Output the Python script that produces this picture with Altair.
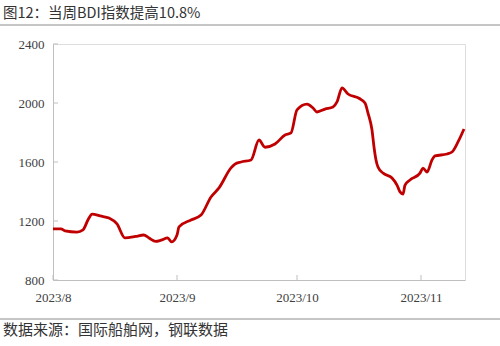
import altair as alt
import pandas as pd

# BDI series
dates = [
    "2023-08-01T00:00", "2023-08-03T00:00", "2023-08-04T00:00", "2023-08-07T00:00",
    "2023-08-08T12:00", "2023-08-09T19:00", "2023-08-10T19:00", "2023-08-12T19:00",
    "2023-08-15T00:00", "2023-08-17T00:00", "2023-08-19T00:00", "2023-08-21T16:00",
    "2023-08-23T16:00", "2023-08-25T00:00", "2023-08-26T16:00", "2023-08-28T00:00",
    "2023-08-29T16:00", "2023-08-30T16:00",
    "2023-09-01T00:00", "2023-09-01T12:00", "2023-09-04T12:00", "2023-09-07T00:00",
    "2023-09-09T12:00", "2023-09-11T12:00", "2023-09-14T12:00", "2023-09-15T12:00",
    "2023-09-17T00:00", "2023-09-19T12:00", "2023-09-21T12:00", "2023-09-23T00:00",
    "2023-09-25T12:00", "2023-09-28T00:00", "2023-09-29T12:00",
    "2023-10-01T00:00", "2023-10-03T12:00", "2023-10-05T00:00", "2023-10-06T00:00",
    "2023-10-08T00:00", "2023-10-10T00:00", "2023-10-11T00:00", "2023-10-12T06:00",
    "2023-10-13T18:00", "2023-10-16T12:00", "2023-10-18T00:00", "2023-10-18T18:00",
    "2023-10-19T18:00", "2023-10-20T06:00", "2023-10-20T18:00", "2023-10-21T06:00",
    "2023-10-22T12:00", "2023-10-24T18:00", "2023-10-26T00:00", "2023-10-26T18:00",
    "2023-10-27T12:00", "2023-10-28T00:00", "2023-10-29T06:00", "2023-10-31T18:00",
    "2023-11-01T12:00", "2023-11-02T12:00", "2023-11-03T18:00", "2023-11-04T12:00",
    "2023-11-07T12:00", "2023-11-08T18:00", "2023-11-10T06:00", "2023-11-11T18:00",
]
bdi = [
    1146, 1146, 1133, 1125,
    1140, 1210, 1247, 1234,
    1220, 1180, 1085, 1095,
    1105, 1085, 1062, 1070,
    1085, 1058,
    1105, 1160, 1207, 1240,
    1363, 1424, 1560, 1586,
    1600, 1614, 1749, 1700,
    1722, 1783, 1797,
    1953, 1993, 1966, 1939,
    1959, 1973, 2007, 2102,
    2061, 2032, 2000, 1932,
    1817, 1702, 1614, 1566,
    1525, 1492, 1444, 1397,
    1383, 1444, 1478, 1525,
    1559, 1532, 1614, 1641,
    1654, 1668, 1736, 1824,
]
y_ticks = [800, 1200, 1600, 2000, 2400]
month_ticks = ["2023-08-01T00:00", "2023-09-01T00:00", "2023-10-01T00:00", "2023-11-01T00:00"]
title_text = "图12：当周BDI指数提高10.8%"
source_text = "数据来源：国际船舶网，钢联数据"

W, H = 412, 236
AXIS_GREY = "#BFBFBF"
LABEL = "#404040"

df = pd.DataFrame({"date": dates, "bdi": bdi})

x_scale = alt.Scale(domain=[alt.DateTime(year=2023, month=8, date=1),
                            alt.DateTime(year=2023, month=11, date=12)])
y_scale = alt.Scale(domain=[800, 2400], nice=False, zero=False)

line = alt.Chart(df).mark_line(
    color="#C00000", strokeWidth=2.8, interpolate="monotone"
).encode(
    x=alt.X("date:T", scale=x_scale, title=None,
            axis=alt.Axis(values=[alt.DateTime(year=2023, month=m, date=1) for m in (8, 9, 10, 11)],
                          format="%Y/%-m", grid=False, tickSize=0, labelPadding=11,
                          domainColor=AXIS_GREY, labelColor=LABEL, labelFont="Liberation Serif",
                          labelFontSize=13, labelFlush=False)),
    y=alt.Y("bdi:Q", scale=y_scale, title=None,
            axis=alt.Axis(values=y_ticks, format="d", grid=False, tickSize=0, labelPadding=9,
                          domainColor=AXIS_GREY, labelColor=LABEL, labelFont="Liberation Serif",
                          labelFontSize=13)),
)

xt = alt.Chart(pd.DataFrame({"date": month_ticks})).mark_rule(color=AXIS_GREY, strokeWidth=1).encode(
    x=alt.X("date:T", scale=x_scale), y=alt.value(H - 5), y2=alt.value(H)
)
yt = alt.Chart(pd.DataFrame({"v": y_ticks})).mark_rule(color=AXIS_GREY, strokeWidth=1).encode(
    y=alt.Y("v:Q", scale=y_scale), x=alt.value(0), x2=alt.value(5)
)

title = alt.Chart(pd.DataFrame({"t": [title_text]})).mark_text(
    align="left", baseline="middle", font="Noto Sans CJK SC", fontSize=14.5, color="#333333"
).encode(text="t:N", x=alt.value(-50), y=alt.value(-30))
top_rule = alt.Chart(pd.DataFrame({"a": [0]})).mark_rule(color="#8C8C8C", strokeWidth=1).encode(
    x=alt.value(-53), x2=alt.value(447), y=alt.value(-19)
)
source = alt.Chart(pd.DataFrame({"t": [source_text]})).mark_text(
    align="left", baseline="middle", font="Noto Sans CJK SC", fontSize=15, color="#333333"
).encode(text="t:N", x=alt.value(-50), y=alt.value(H + 50))
bottom_rule = alt.Chart(pd.DataFrame({"a": [0]})).mark_rule(color="#8C8C8C", strokeWidth=1).encode(
    x=alt.value(-53), x2=alt.value(447), y=alt.value(H + 39)
)

chart = alt.layer(line, xt, yt, title, top_rule, source, bottom_rule).properties(
    width=W, height=H, autosize="none",
    padding={"left": 53, "top": 44, "right": 35, "bottom": 66},
).configure_view(stroke=None).configure(background="white")

chart.save("out.html", embed_options={"renderer": "svg", "actions": False})
